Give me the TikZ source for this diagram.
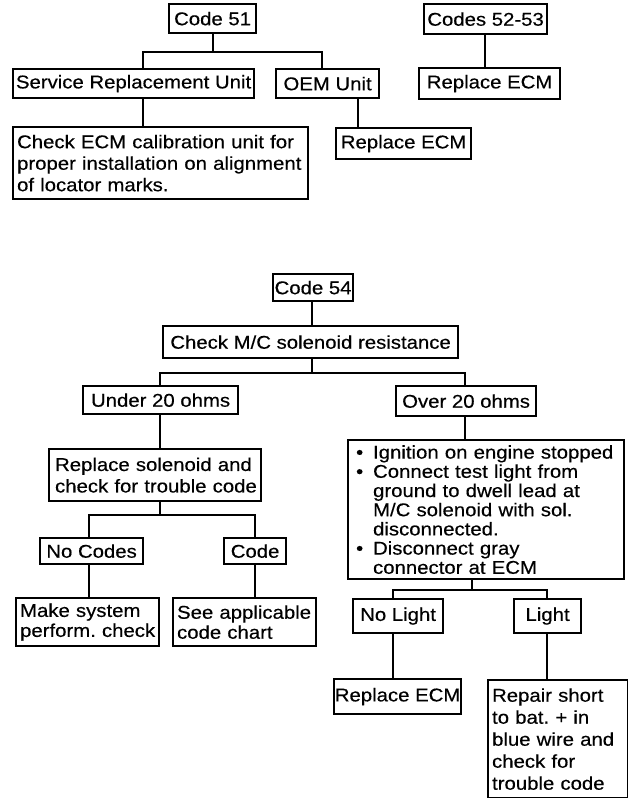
\documentclass[tikz,border=0pt]{standalone}
\usepackage{fontspec}
\setmainfont{Liberation Sans}[FakeStretch=1.1, FakeBold=0.4]
\frenchspacing
\newcommand{\bul}{\makebox[17pt][l]{\textbullet}}
\newcommand{\hang}{\hspace*{17pt}}
\begin{document}
\begin{tikzpicture}[x=1pt,y=-1pt,
  box/.style={draw, line width=2.2pt, rectangle, inner sep=0pt, anchor=north west,
              align=center, font=\fontsize{18.5}{21.5}\selectfont},
  textbox/.style={box, align=left},
  link/.style={line width=2.2pt}]
\useasboundingbox (0,0) rectangle (628,798);

% ---- Code 51 ----
\node[box, minimum width=87pt, minimum height=29pt] (c51) at (168,3) {Code 51};
\node[box, minimum width=241pt, minimum height=29pt] (sru) at (12,68) {Service Replacement Unit};
\node[box, minimum width=103pt, minimum height=29pt] (oem) at (275,68) {OEM Unit};
\node[textbox, text width=287pt, inner xsep=4pt, minimum height=72pt] (chk) at (12,126)
  {\mbox{Check ECM calibration unit for}\\\mbox{proper installation on alignment}\\\mbox{of locator marks.}};
\node[box, minimum width=135pt, minimum height=31pt] (re1) at (335,127) {Replace ECM};

% ---- Codes 52-53 ----
\node[box, minimum width=123pt, minimum height=30pt] (c52) at (423,3) {Codes 52-53};
\node[box, minimum width=141pt, minimum height=31pt] (re2) at (418,67) {Replace ECM};

% ---- Code 54 ----
\node[box, minimum width=80pt, minimum height=27pt] (c54) at (272,273) {Code 54};
\node[box, minimum width=295pt, minimum height=32pt] (mc) at (162,325) {Check M/C solenoid resistance};
\node[box, minimum width=155pt, minimum height=28pt] (u20) at (82,385) {Under 20 ohms};
\node[box, minimum width=140pt, minimum height=30pt] (o20) at (395,385) {Over 20 ohms};
\node[textbox, text width=200pt, inner xsep=6pt, minimum height=52pt] (rs) at (48,448)
  {\mbox{Replace solenoid and}\\\mbox{check for trouble code}};
\node[box, minimum width=103pt, minimum height=26pt] (nc) at (39,537) {No Codes};
\node[box, minimum width=62pt, minimum height=26pt] (cd) at (223,537) {Code};
\node[textbox, text width=135pt, inner xsep=4pt, minimum height=48pt,
      font=\fontsize{18.5}{20}\selectfont] (ms) at (15,597)
  {\mbox{Make system}\\\mbox{perform. check}};
\node[textbox, text width=135pt, inner xsep=4pt, minimum height=48pt,
      font=\fontsize{18.5}{20}\selectfont] (sa) at (172,597)
  {\mbox{See applicable}\\\mbox{code chart}};
\node[textbox, text width=260pt, inner xsep=8pt, minimum height=139pt,
      font=\fontsize{18.5}{19.2}\selectfont] (bl) at (347,439)
  {\mbox{\bul Ignition on engine stopped}\\
   \mbox{\bul Connect test light from}\\
   \mbox{\hang ground to dwell lead at}\\
   \mbox{\hang M/C solenoid with sol.}\\
   \mbox{\hang disconnected.}\\
   \mbox{\bul Disconnect gray}\\
   \mbox{\hang connector at ECM}};
\node[box, minimum width=90pt, minimum height=34pt] (nl) at (352,598) {No Light};
\node[box, minimum width=67pt, minimum height=34pt] (lt) at (513,598) {Light};
\node[box, minimum width=127pt, minimum height=35pt] (re3) at (333,678) {Replace ECM};
\node[textbox, text width=132pt, inner xsep=4pt, minimum height=118pt,
      font=\fontsize{18.5}{22}\selectfont] (rp) at (487,679)
  {\mbox{Repair short}\\\mbox{to bat. + in}\\\mbox{blue wire and}\\\mbox{check for}\\\mbox{trouble code}};

% ---- junction points of the branch lines ----
\coordinate (a1) at (143,52);
\coordinate (a2) at (322,52);
\coordinate (a3) at (358,0);
\coordinate (a4) at (485,0);
\coordinate (b1) at (160,373);
\coordinate (b2) at (465,373);
\coordinate (b3) at (89,515);
\coordinate (b4) at (255,515);
\coordinate (b5) at (393,590);
\coordinate (b6) at (547,590);
\coordinate (s1) at (312,0);
\coordinate (s2) at (472,0);

% ---- connectors ----
\draw[link] (c51.south) -- (c51.south |- a1);
\draw[link] (a1 |- sru.north) -- (a1) -- (a2) -- (a2 |- oem.north);
\draw[link] (a1 |- sru.south) -- (a1 |- chk.north);
\draw[link] (a3 |- oem.south) -- (a3 |- re1.north);
\draw[link] (a4 |- c52.south) -- (a4 |- re2.north);

\draw[link] (s1 |- c54.south) -- (s1 |- mc.north);
\draw[link] (s1 |- mc.south) -- (s1 |- b1);
\draw[link] (b1 |- u20.north) -- (b1) -- (b2) -- (b2 |- o20.north);
\draw[link] (b1 |- u20.south) -- (b1 |- rs.north);
\draw[link] (b1 |- rs.south) -- (b1 |- b3);
\draw[link] (b3 |- nc.north) -- (b3) -- (b4) -- (b4 |- cd.north);
\draw[link] (b3 |- nc.south) -- (b3 |- ms.north);
\draw[link] (b4 |- cd.south) -- (b4 |- sa.north);

\draw[link] (b2 |- o20.south) -- (b2 |- bl.north);
\draw[link] (s2 |- bl.south) -- (s2 |- b5);
\draw[link] (b5 |- nl.north) -- (b5) -- (b6) -- (b6 |- lt.north);
\draw[link] (b5 |- nl.south) -- (b5 |- re3.north);
\draw[link] (b6 |- lt.south) -- (b6 |- rp.north);
\end{tikzpicture}
\end{document}
